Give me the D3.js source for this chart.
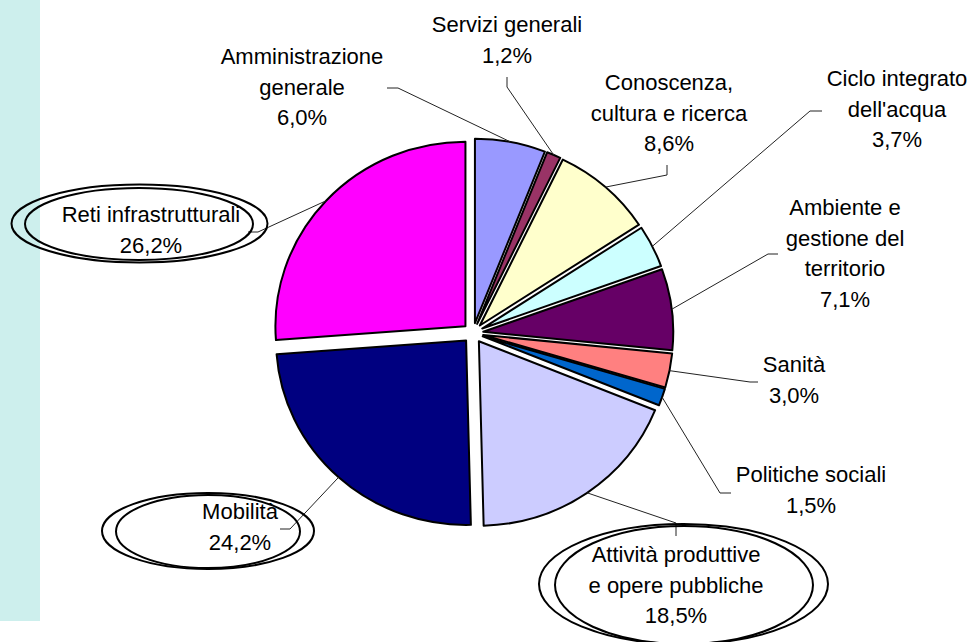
<!DOCTYPE html>
<html>
<head>
<meta charset="utf-8">
<script src="https://cdn.jsdelivr.net/npm/d3@7"></script>
<style>
  body { margin: 0; background: #fff; }
  svg { display: block; font-family: "Liberation Sans", Arial, sans-serif; }
</style>
</head>
<body>
<div id="chart"></div>
<script>
// data, clockwise from 12 o'clock
const categories = [
  'Amministrazione\ngenerale', 'Servizi generali', 'Conoscenza,\ncultura e ricerca',
  'Ciclo integrato\ndell\'acqua', 'Ambiente e\ngestione del\nterritorio', 'Sanità',
  'Politiche sociali', 'Attività produttive\ne opere pubbliche', 'Mobilità', 'Reti infrastrutturali'
];
const values = [6.0, 1.2, 8.6, 3.7, 7.1, 3.0, 1.5, 18.5, 24.2, 26.2];
const colors = ['#9999ff', '#993366', '#ffffcc', '#ccffff', '#660066', '#ff8080', '#0066cc', '#ccccff', '#000080', '#ff00ff'];

// label layout: text centre, first baseline, leader start + elbow, optional double ellipse
const labelLayout = [
  { x: 302, y: 64, lead: [[387, 88], [398, 88]] },
  { x: 507, y: 32, lead: [[507, 77], [507, 87]] },
  { x: 669, y: 90, lead: [[667, 165], [667, 175]] },
  { x: 897, y: 86, lead: [[822, 111], [810, 111]] },
  { x: 845, y: 215, lead: [[778, 254], [768, 254]] },
  { x: 794, y: 372, lead: [[758, 382], [750, 382]] },
  { x: 811, y: 482, lead: [[731, 493], [720, 493]] },
  { x: 676, y: 562, lead: [[676, 536], [676, 523]], ell: [[683.5, 584, 144.5, 60], [684, 585, 129, 59]] },
  { x: 240, y: 519, lead: [[280, 529], [290, 529]], ell: [[208, 531, 106, 38], [208, 531.5, 92, 36.5]] },
  { x: 151, y: 222, lead: [[248, 232], [258, 232]], ell: [[139.5, 223.5, 128, 39], [139, 224, 114, 36]] }
];

const width = 972;
const height = 642;
const cx = 473, cy = 333;
const radius = 184.5;
const sx = 1.03;      // pie is slightly wider than tall
const explode = 10;
const lineGap = 30.5;

const fmt = d3.formatLocale({ decimal: ',', thousands: '.', grouping: [3], currency: ['', '€'] }).format('.1f');

const svg = d3.select('#chart')
  .append('svg')
  .attr('width', width)
  .attr('height', height)

svg.append('rect')
  .attr('x', 0).attr('y', 0)
  .attr('width', 40).attr('height', 621)
  .style('fill', '#cdefed')

const pie = d3.pie().sort(null).value(d => d)
const arcs = pie(values)
const arc = d3.arc().innerRadius(0).outerRadius(radius)

const mid = d => (d.startAngle + d.endAngle) / 2
const offset = d => [cx + sx * explode * Math.sin(mid(d)), cy - explode * Math.cos(mid(d))]

svg.selectAll('.slice')
  .data(arcs)
  .enter()
  .append('path')
  .attr('class', 'slice')
  .attr('d', arc)
  .attr('transform', d => `translate(${offset(d)}) scale(${sx},1)`)
  .attr('vector-effect', 'non-scaling-stroke')
  .style('fill', (d, i) => colors[i])
  .style('stroke', '#000')
  .style('stroke-width', 2)
  .style('stroke-linejoin', 'round')

// leader lines: label -> elbow -> middle of the slice's rim
svg.selectAll('.leader')
  .data(arcs)
  .enter()
  .append('polyline')
  .attr('class', 'leader')
  .attr('points', (d, i) => {
    const o = offset(d)
    const a = mid(d)
    const rim = [o[0] + sx * radius * Math.sin(a), o[1] - radius * Math.cos(a)]
    return [...labelLayout[i].lead, rim].map(p => p.join(',')).join(' ')
  })
  .style('fill', 'none')
  .style('stroke', '#222')
  .style('stroke-width', 1)

// double ellipses round the three biggest labels
labelLayout.forEach(l => {
  if (!l.ell) return
  l.ell.forEach(e => {
    svg.append('ellipse')
      .attr('cx', e[0]).attr('cy', e[1])
      .attr('rx', e[2]).attr('ry', e[3])
      .style('fill', 'none')
      .style('stroke', '#000')
      .style('stroke-width', 2)
  })
})

const labels = svg.selectAll('.label')
  .data(arcs)
  .enter()
  .append('text')
  .attr('class', 'label')
  .attr('text-anchor', 'middle')
  .style('font-size', '22px')
  .style('fill', '#000')

labels.each(function (d, i) {
  const l = labelLayout[i]
  const lines = categories[i].split('\n').concat(fmt(values[i]) + '%')
  d3.select(this).selectAll('tspan')
    .data(lines)
    .enter()
    .append('tspan')
    .attr('x', l.x)
    .attr('y', (t, j) => l.y + j * lineGap)
    .text(t => t)
})
</script>
</body>
</html>
